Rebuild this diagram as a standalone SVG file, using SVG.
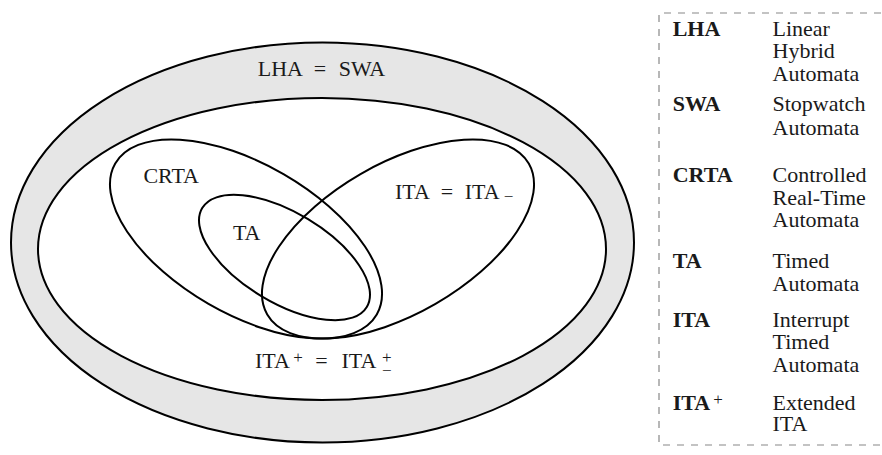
<svg xmlns="http://www.w3.org/2000/svg" width="882" height="455" viewBox="0 0 882 455">
<style>
  .set { fill: none; stroke: #000; stroke-width: 2; }
  .lbl { font-family: "Liberation Serif", "Times New Roman", serif; font-size: 22px; fill: #1a1a1a; text-anchor: middle; }
  .scr { font-family: "Liberation Serif", "Times New Roman", serif; font-size: 17px; fill: #1a1a1a; text-anchor: middle; }
  .ab { font-family: "Liberation Serif", "Times New Roman", serif; font-size: 22px; font-weight: bold; fill: #1a1a1a; }
  .ds { font-family: "Liberation Serif", "Times New Roman", serif; font-size: 22px; fill: #1a1a1a; }
  .sup { font-size: 17px; font-weight: normal; }
  .box { fill: none; stroke: #888; stroke-width: 1.2; stroke-dasharray: 7 7; }
</style>
<rect width="882" height="455" fill="#fff"/>
<g id="lha-swa">
  <ellipse cx="322.5" cy="242.5" rx="311.5" ry="200" fill="#e6e6e6" stroke="#000" stroke-width="2"/>
  <text class="lbl" x="280.3" y="75.7">LHA</text>
  <text class="lbl" x="320" y="75.7">=</text>
  <text class="lbl" x="362" y="75.7">SWA</text>
</g>
<g id="ita-plus">
  <ellipse cx="322" cy="249" rx="284" ry="151" fill="#fff" stroke="#000" stroke-width="2"/>
  <text class="lbl" x="272.5" y="368.3">ITA</text>
  <text class="scr" x="298" y="362.8">+</text>
  <text class="lbl" x="321.5" y="368.3">=</text>
  <text class="lbl" x="359" y="368.3">ITA</text>
  <text class="scr" x="386.7" y="363">+</text>
  <text class="scr" x="386.7" y="376">−</text>
</g>
<g id="crta">
  <ellipse class="set" cx="246" cy="239" rx="151" ry="75" transform="rotate(30 246 239)"/>
  <text class="lbl" x="171.2" y="183">CRTA</text>
</g>
<g id="ta">
  <ellipse class="set" cx="284.5" cy="257.5" rx="96" ry="45" transform="rotate(31 284.5 257.5)"/>
  <text class="lbl" x="246.7" y="240">TA</text>
</g>
<g id="ita">
  <ellipse class="set" cx="398" cy="239" rx="151" ry="75" transform="rotate(-30 398 239)"/>
  <text class="lbl" x="412.5" y="199">ITA</text>
  <text class="lbl" x="447" y="199">=</text>
  <text class="lbl" x="482.2" y="199">ITA</text>
  <text class="scr" x="508.5" y="201.5">−</text>
</g>
<g id="connectors"></g>
<g id="legend">
  <path class="box" d="M 895 13 H 659 V 445 H 895"/>
  <text class="ab" x="672.7" y="35.7">LHA</text>
  <text class="ds" x="772.5" y="35.7">Linear</text>
  <text class="ds" x="772.5" y="58">Hybrid</text>
  <text class="ds" x="772.5" y="80.7">Automata</text>
  <text class="ab" x="672.7" y="111">SWA</text>
  <text class="ds" x="772.5" y="111">Stopwatch</text>
  <text class="ds" x="772.5" y="135">Automata</text>
  <text class="ab" x="672.7" y="182">CRTA</text>
  <text class="ds" x="772.5" y="182">Controlled</text>
  <text class="ds" x="772.5" y="204.5">Real-Time</text>
  <text class="ds" x="772.5" y="227">Automata</text>
  <text class="ab" x="672.7" y="267.7">TA</text>
  <text class="ds" x="772.5" y="267.7">Timed</text>
  <text class="ds" x="772.5" y="290.5">Automata</text>
  <text class="ab" x="672.7" y="326.7">ITA</text>
  <text class="ds" x="772.5" y="326.7">Interrupt</text>
  <text class="ds" x="772.5" y="349">Timed</text>
  <text class="ds" x="772.5" y="371.7">Automata</text>
  <text class="ab" x="672.7" y="410">ITA<tspan class="sup" dx="3" dy="-5">+</tspan></text>
  <text class="ds" x="772.5" y="410">Extended</text>
  <text class="ds" x="772.5" y="431">ITA</text>
</g>
</svg>
